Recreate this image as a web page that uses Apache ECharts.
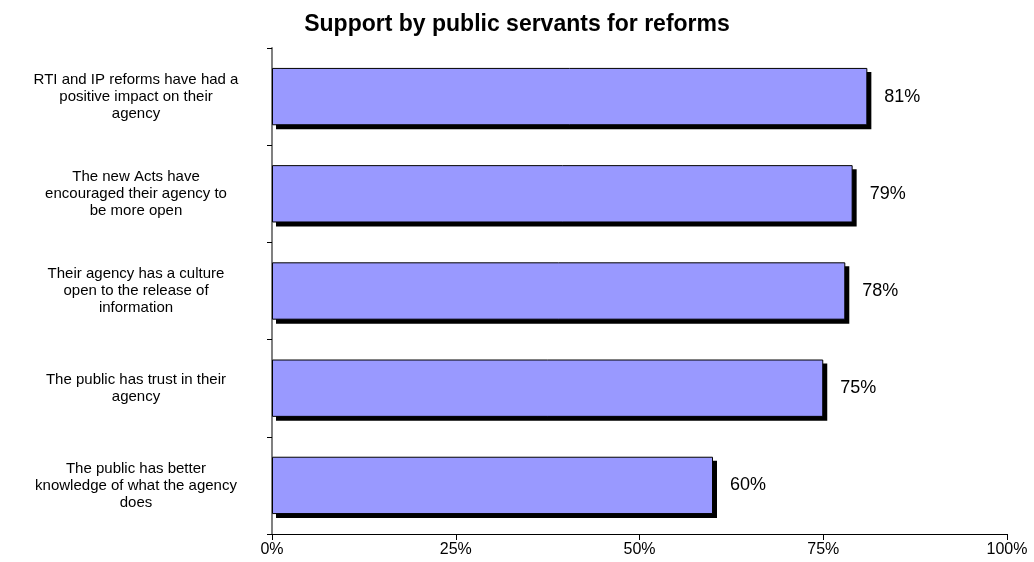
<!DOCTYPE html>
<html>
<head>
<meta charset="utf-8">
<script src="https://cdn.jsdelivr.net/npm/echarts@6/dist/echarts.min.js"></script>
<style>
  html, body { margin: 0; padding: 0; background: #fff; }
  #chart { width: 1034px; height: 562px; }
</style>
</head>
<body>
<div id="chart"></div>
<script>
// Survey statements, top to bottom as shown
const categories = [
  'RTI and IP reforms have had a\npositive impact on their\nagency',
  'The new Acts have\nencouraged their agency to\nbe more open',
  'Their agency has a culture\nopen to the release of\ninformation',
  'The public has trust in their\nagency',
  'The public has better\nknowledge of what the agency\ndoes'
];
// Share of public servants agreeing (%)
const values = [81, 79, 78, 75, 60];
// Value-axis tick labels
const xTicks = [0, 25, 50, 75, 100];

const font = 'Liberation Sans, Arial, Helvetica, sans-serif';
const BAR_FRACTION = 0.59;   // bar thickness relative to the category band
const SHADOW_DX = 4, SHADOW_DY = 4;

const chart = echarts.init(document.getElementById('chart'), null, { renderer: 'canvas' });

chart.setOption({
  animation: false,
  backgroundColor: '#ffffff',
  title: {
    text: 'Support by public servants for reforms',
    left: 'center',
    top: 8,
    textStyle: { fontFamily: font, fontSize: 23, fontWeight: 'bold', color: '#000' }
  },
  grid: { left: 272, right: 27, top: 48, bottom: 28, containLabel: false },
  xAxis: {
    type: 'value',
    min: xTicks[0],
    max: xTicks[xTicks.length - 1],
    interval: 25,
    axisLine: { show: true, lineStyle: { color: '#000', width: 1 } },
    axisTick: { show: true, length: 6, lineStyle: { color: '#000' } },
    splitLine: { show: false },
    axisLabel: {
      fontFamily: font, fontSize: 16, color: '#000', margin: 8,
      formatter: v => v + '%'
    }
  },
  yAxis: {
    type: 'category',
    inverse: true,
    data: categories,
    axisLine: { show: true, lineStyle: { color: '#808080', width: 2 } },
    axisTick: { show: true, length: 5, lineStyle: { color: '#000' } },
    axisLabel: {
      fontFamily: font, fontSize: 15, color: '#000',
      align: 'center', margin: 136, lineHeight: 17
    }
  },
  series: [
    {
      // solid drop shadow behind each bar
      type: 'custom',
      z: 1,
      silent: true,
      data: values.map((v, i) => [v, i]),
      encode: { x: 0, y: 1 },
      renderItem: (params, api) => {
        const start = api.coord([0, api.value(1)]);
        const end = api.coord([api.value(0), api.value(1)]);
        const h = api.size([0, 1])[1] * BAR_FRACTION;
        return {
          type: 'rect',
          shape: {
            x: start[0] + SHADOW_DX,
            y: end[1] - h / 2 + SHADOW_DY,
            width: end[0] - start[0],
            height: h
          },
          style: { fill: '#000' }
        };
      }
    },
    {
      type: 'bar',
      z: 2,
      data: values,
      barWidth: (BAR_FRACTION * 100) + '%',
      itemStyle: { color: '#9999ff', borderColor: '#000', borderWidth: 1 },
      label: {
        show: true,
        position: 'right',
        distance: 17,
        fontFamily: font, fontSize: 18, color: '#000',
        formatter: p => p.value + '%'
      }
    }
  ]
});
</script>
</body>
</html>
